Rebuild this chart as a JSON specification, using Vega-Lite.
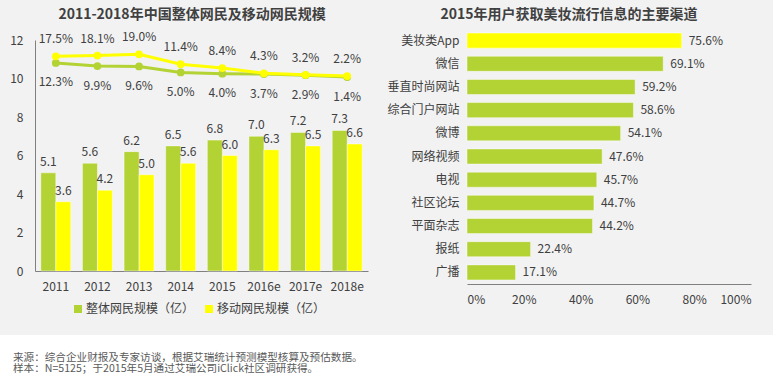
{
  "$schema": "https://vega.github.io/schema/vega-lite/v6.json",
  "background": "#f2f2f2",
  "padding": {"left": 0, "top": 8, "right": 0, "bottom": 0},
  "config": {
    "font": "Noto Sans CJK SC",
    "view": {"stroke": null},
    "axis": {"labelFont": "Noto Sans CJK SC", "labelColor": "#404040", "labelFontSize": 12, "domainColor": "#808080", "ticks": false, "grid": false, "title": null},
    "title": {"font": "Noto Sans CJK SC", "fontSize": 14, "fontWeight": "bold", "color": "#404040", "offset": 7, "anchor": "middle", "frame": "bounds"},
    "legend": {"labelFont": "Noto Sans CJK SC"}
  },
  "spacing": 30,
  "vconcat": [
    {
      "spacing": 18,
      "hconcat": [
        {
          "width": 368,
          "height": 242,
          "title": {"text": "2011-2018年中国整体网民及移动网民规模", "dx": 8},
          "data": {"values": [
            {"year": "2011", "total": 5.1, "mobile": 3.6, "totalGrowth": 0.123, "mobileGrowth": 0.175},
            {"year": "2012", "total": 5.6, "mobile": 4.2, "totalGrowth": 0.099, "mobileGrowth": 0.181},
            {"year": "2013", "total": 6.2, "mobile": 5.0, "totalGrowth": 0.096, "mobileGrowth": 0.190},
            {"year": "2014", "total": 6.5, "mobile": 5.6, "totalGrowth": 0.050, "mobileGrowth": 0.114},
            {"year": "2015", "total": 6.8, "mobile": 6.0, "totalGrowth": 0.040, "mobileGrowth": 0.084},
            {"year": "2016e", "total": 7.0, "mobile": 6.3, "totalGrowth": 0.037, "mobileGrowth": 0.043},
            {"year": "2017e", "total": 7.2, "mobile": 6.5, "totalGrowth": 0.029, "mobileGrowth": 0.032},
            {"year": "2018e", "total": 7.3, "mobile": 6.6, "totalGrowth": 0.014, "mobileGrowth": 0.022}
          ]},
          "encoding": {
            "x": {"field": "year", "type": "nominal", "sort": null,
                  "scale": {"range": [35, 368], "paddingInner": 0.28, "paddingOuter": 0.14},
                  "axis": {"labelAngle": 0, "labelPadding": 10}}
          },
          "resolve": {"scale": {"y": "independent"}},
          "layer": [
            {
              "transform": [{"fold": ["total", "mobile"], "as": ["series", "value"]}],
              "encoding": {
                "xOffset": {"field": "series", "type": "nominal", "sort": ["total", "mobile"], "scale": {"domain": ["total", "mobile"]}},
                "y": {"field": "value", "type": "quantitative",
                      "scale": {"domain": [0, 12], "range": [242, 11], "nice": false},
                      "axis": {"values": [0, 2, 4, 6, 8, 10, 12], "offset": -35, "labelPadding": 12}}
              },
              "layer": [
                {
                  "mark": {"type": "bar", "stroke": "#ffffff", "strokeOpacity": 0.45, "strokeWidth": 1},
                  "encoding": {
                    "color": {"field": "series", "type": "nominal",
                              "scale": {"domain": ["total", "mobile"], "range": ["#b3d234", "#ffff00"]},
                              "legend": {"orient": "none", "legendX": 72, "legendY": 274, "direction": "horizontal", "title": null,
                                         "symbolType": "square", "symbolSize": 64, "symbolStrokeWidth": 0, "labelFontSize": 12,
                                         "labelColor": "#404040", "columnPadding": 8, "labelOffset": 2,
                                         "labelExpr": "datum.label === 'total' ? '整体网民规模（亿）' : '移动网民规模（亿）'"}}
                  }
                },
                {
                  "mark": {"type": "text", "baseline": "bottom", "dy": -4, "fontSize": 12, "color": "#404040"},
                  "encoding": {"text": {"field": "value", "type": "quantitative", "format": ".1f"}}
                }
              ]
            },
            {
              "layer": [
                {
                  "mark": {"type": "line", "color": "#b3d234", "strokeWidth": 3, "point": {"filled": true, "size": 60, "color": "#b3d234"}},
                  "encoding": {"y": {"field": "totalGrowth", "type": "quantitative", "scale": {"domain": [-1.487, 0.301], "range": [242, 11], "nice": false, "zero": false}, "axis": null}}
                },
                {
                  "mark": {"type": "line", "color": "#ffff00", "strokeWidth": 3, "point": {"filled": true, "size": 60, "color": "#ffff00"}},
                  "encoding": {"y": {"field": "mobileGrowth", "type": "quantitative", "scale": {"domain": [-1.487, 0.301], "range": [242, 11], "nice": false, "zero": false}, "axis": null}}
                },
                {
                  "mark": {"type": "text", "baseline": "middle", "dy": 19.5, "fontSize": 12, "color": "#404040"},
                  "encoding": {"y": {"field": "totalGrowth", "type": "quantitative", "scale": {"domain": [-1.487, 0.301], "range": [242, 11], "nice": false, "zero": false}, "axis": null},
                               "text": {"field": "totalGrowth", "type": "quantitative", "format": ".1%"}}
                },
                {
                  "mark": {"type": "text", "baseline": "middle", "dy": -17, "fontSize": 12, "color": "#404040"},
                  "encoding": {"y": {"field": "mobileGrowth", "type": "quantitative", "scale": {"domain": [-1.487, 0.301], "range": [242, 11], "nice": false, "zero": false}, "axis": null},
                               "text": {"field": "mobileGrowth", "type": "quantitative", "format": ".1%"}}
                }
              ]
            }
          ]
        },
        {
          "width": 284,
          "height": 255,
          "title": {"text": "2015年用户获取美妆流行信息的主要渠道"},
          "data": {"values": [
            {"channel": "美妆类App", "share": 0.756},
            {"channel": "微信", "share": 0.691},
            {"channel": "垂直时尚网站", "share": 0.592},
            {"channel": "综合门户网站", "share": 0.586},
            {"channel": "微博", "share": 0.541},
            {"channel": "网络视频", "share": 0.476},
            {"channel": "电视", "share": 0.457},
            {"channel": "社区论坛", "share": 0.447},
            {"channel": "平面杂志", "share": 0.442},
            {"channel": "报纸", "share": 0.224},
            {"channel": "广播", "share": 0.171}
          ]},
          "encoding": {
            "y": {"field": "channel", "type": "nominal", "sort": null,
                  "scale": {"paddingInner": 0.35, "paddingOuter": 0.175},
                  "axis": {"domain": false, "labelPadding": 8}},
            "x": {"field": "share", "type": "quantitative", "scale": {"domain": [0, 1], "nice": false},
                  "axis": {"format": ".0%", "values": [0, 0.2, 0.4, 0.6, 0.8, 1], "labelPadding": 10}}
          },
          "layer": [
            {
              "mark": {"type": "bar", "stroke": "#ffffff", "strokeOpacity": 0.45, "strokeWidth": 1},
              "encoding": {"color": {"condition": {"test": "datum.channel === '美妆类App'", "value": "#ffff00"}, "value": "#b3d234"}}
            },
            {
              "mark": {"type": "text", "align": "left", "baseline": "middle", "dx": 7, "fontSize": 12, "color": "#404040"},
              "encoding": {"text": {"field": "share", "type": "quantitative", "format": ".1%"}}
            }
          ]
        }
      ]
    },
    {
      "width": 773,
      "height": 42,
      "view": {"fill": "#ffffff", "stroke": null},
      "data": {"values": [
        {"k": 1, "t": "来源：综合企业财报及专家访谈，根据艾瑞统计预测模型核算及预估数据。"},
        {"k": 2, "t": "样本：N=5125；于2015年5月通过艾瑞公司iClick社区调研获得。"}
      ]},
      "mark": {"type": "text", "align": "left", "baseline": "middle", "fontSize": 10.6, "color": "#595959"},
      "encoding": {
        "y": {"field": "k", "type": "ordinal", "scale": {"range": [22.5, 34], "padding": 0}, "axis": null},
        "x": {"datum": 0, "type": "quantitative", "scale": {"domain": [0, 1], "range": [13, 773]}, "axis": null},
        "text": {"field": "t"}
      }
    }
  ]
}
